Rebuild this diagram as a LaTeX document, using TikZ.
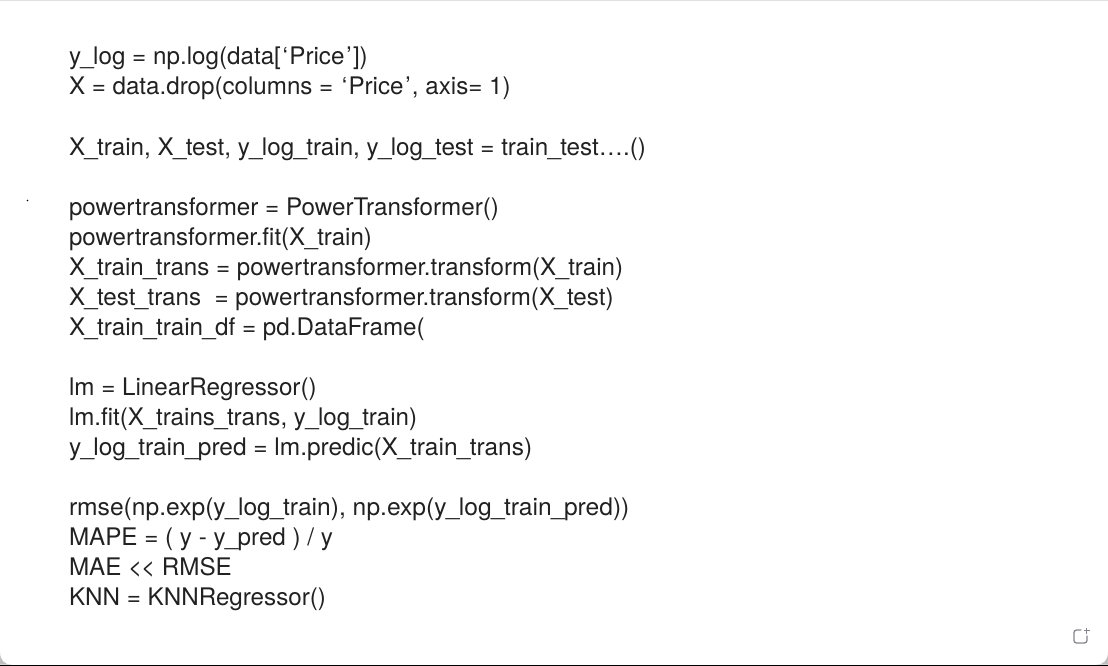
\documentclass[tikz,border=0pt]{standalone}
\usepackage{graphicx}
\usepackage{fontspec}
\setmainfont{TeX Gyre Heros}
\definecolor{codeink}{gray}{0.13}
\definecolor{edgegray}{gray}{0.88}
\definecolor{iconink}{RGB}{135,135,145}
\newcommand{\cus}{\kern-0.7pt\_\kern-0.7pt}
\newcommand{\cbq}{\kern1.8pt‘\kern1.3pt}
\newcommand{\ceq}{\kern1.8pt’\kern1.3pt}
\tikzset{
  code/.style={anchor=base west,inner sep=0pt,outer sep=0pt,text=codeink,font=\fontsize{24.2}{30}\selectfont},
}
\begin{document}
\begin{tikzpicture}[x=1pt,y=-1pt]
\useasboundingbox (0,0) rectangle (1108,666);
\fill[white] (0,0) rectangle (1108,666);
\fill[edgegray] (0,0) rectangle (1108,1);
\fill[black] (0,664.6) rectangle (1108,666);
\fill[black!25] (0,664.6) -- (0,652) .. controls (0,660) and (4,664.6) .. (12,664.6) -- cycle;
\fill[black!25] (1108,664.6) -- (1108,652) .. controls (1108,660) and (1104,664.6) .. (1096,664.6) -- cycle;
\fill[black] (27.5,200.5) circle (0.8);
\node[code] (l1) at (69,65) {y\cus log = np.log(data[\cbq Price\ceq])};
\node[code] (l2) at (69,95) {\scalebox{0.998}[1]{X = data.drop(columns = \cbq Price\ceq, axis= 1)}};
\node[code] (l3) at (69,155) {X\cus train, X\cus test, y\cus log\cus train, y\cus log\cus test = train\cus test….()};
\node[code] (l4) at (69,215) {powertransformer = PowerTransformer()};
\node[code] (l5) at (69,245) {\scalebox{0.9945}[1]{powertransformer.fit(X\cus train)}};
\node[code] (l6) at (69,275) {\scalebox{0.9964}[1]{X\cus train\cus trans = powertransformer.transform(X\cus train)}};
\node[code] (l7) at (69,305) {\scalebox{0.9975}[1]{X\cus test\cus trans \ = powertransformer.transform(X\cus test)}};
\node[code] (l8) at (69,335) {X\cus train\cus train\cus df = pd.DataFrame(};
\node[code] (l9) at (69,395) {lm = LinearRegressor()};
\node[code] (l10) at (69,425) {\scalebox{0.9972}[1]{lm.fit(X\cus trains\cus trans, y\cus log\cus train)}};
\node[code] (l11) at (69,455) {\scalebox{1.011}[1]{y\cus log\cus train\cus pred = lm.predic(X\cus train\cus trans)}};
\node[code] (l12) at (69,515) {\scalebox{1.017}[1]{rmse(np.exp(y\cus log\cus train), np.exp(y\cus log\cus train\cus pred))}};
\node[code] (l13) at (69,545) {MAPE = ( y - y\cus pred ) / y};
\node[code] (l14) at (69,575) {MAE {<}\kern-1.2pt{<} RMSE};
\node[code] (l15) at (69,605) {KNN = KNNRegressor()};
\draw[iconink,line width=1.3,line cap=round,rounded corners=2.5] (1081,630) -- (1074,630) -- (1074,643) -- (1087,643) -- (1087,636);
\draw[iconink,line width=1.2] (1083.5,630.5) -- (1090,630.5) (1086.8,627.5) -- (1086.8,633.5);
\end{tikzpicture}
\end{document}
